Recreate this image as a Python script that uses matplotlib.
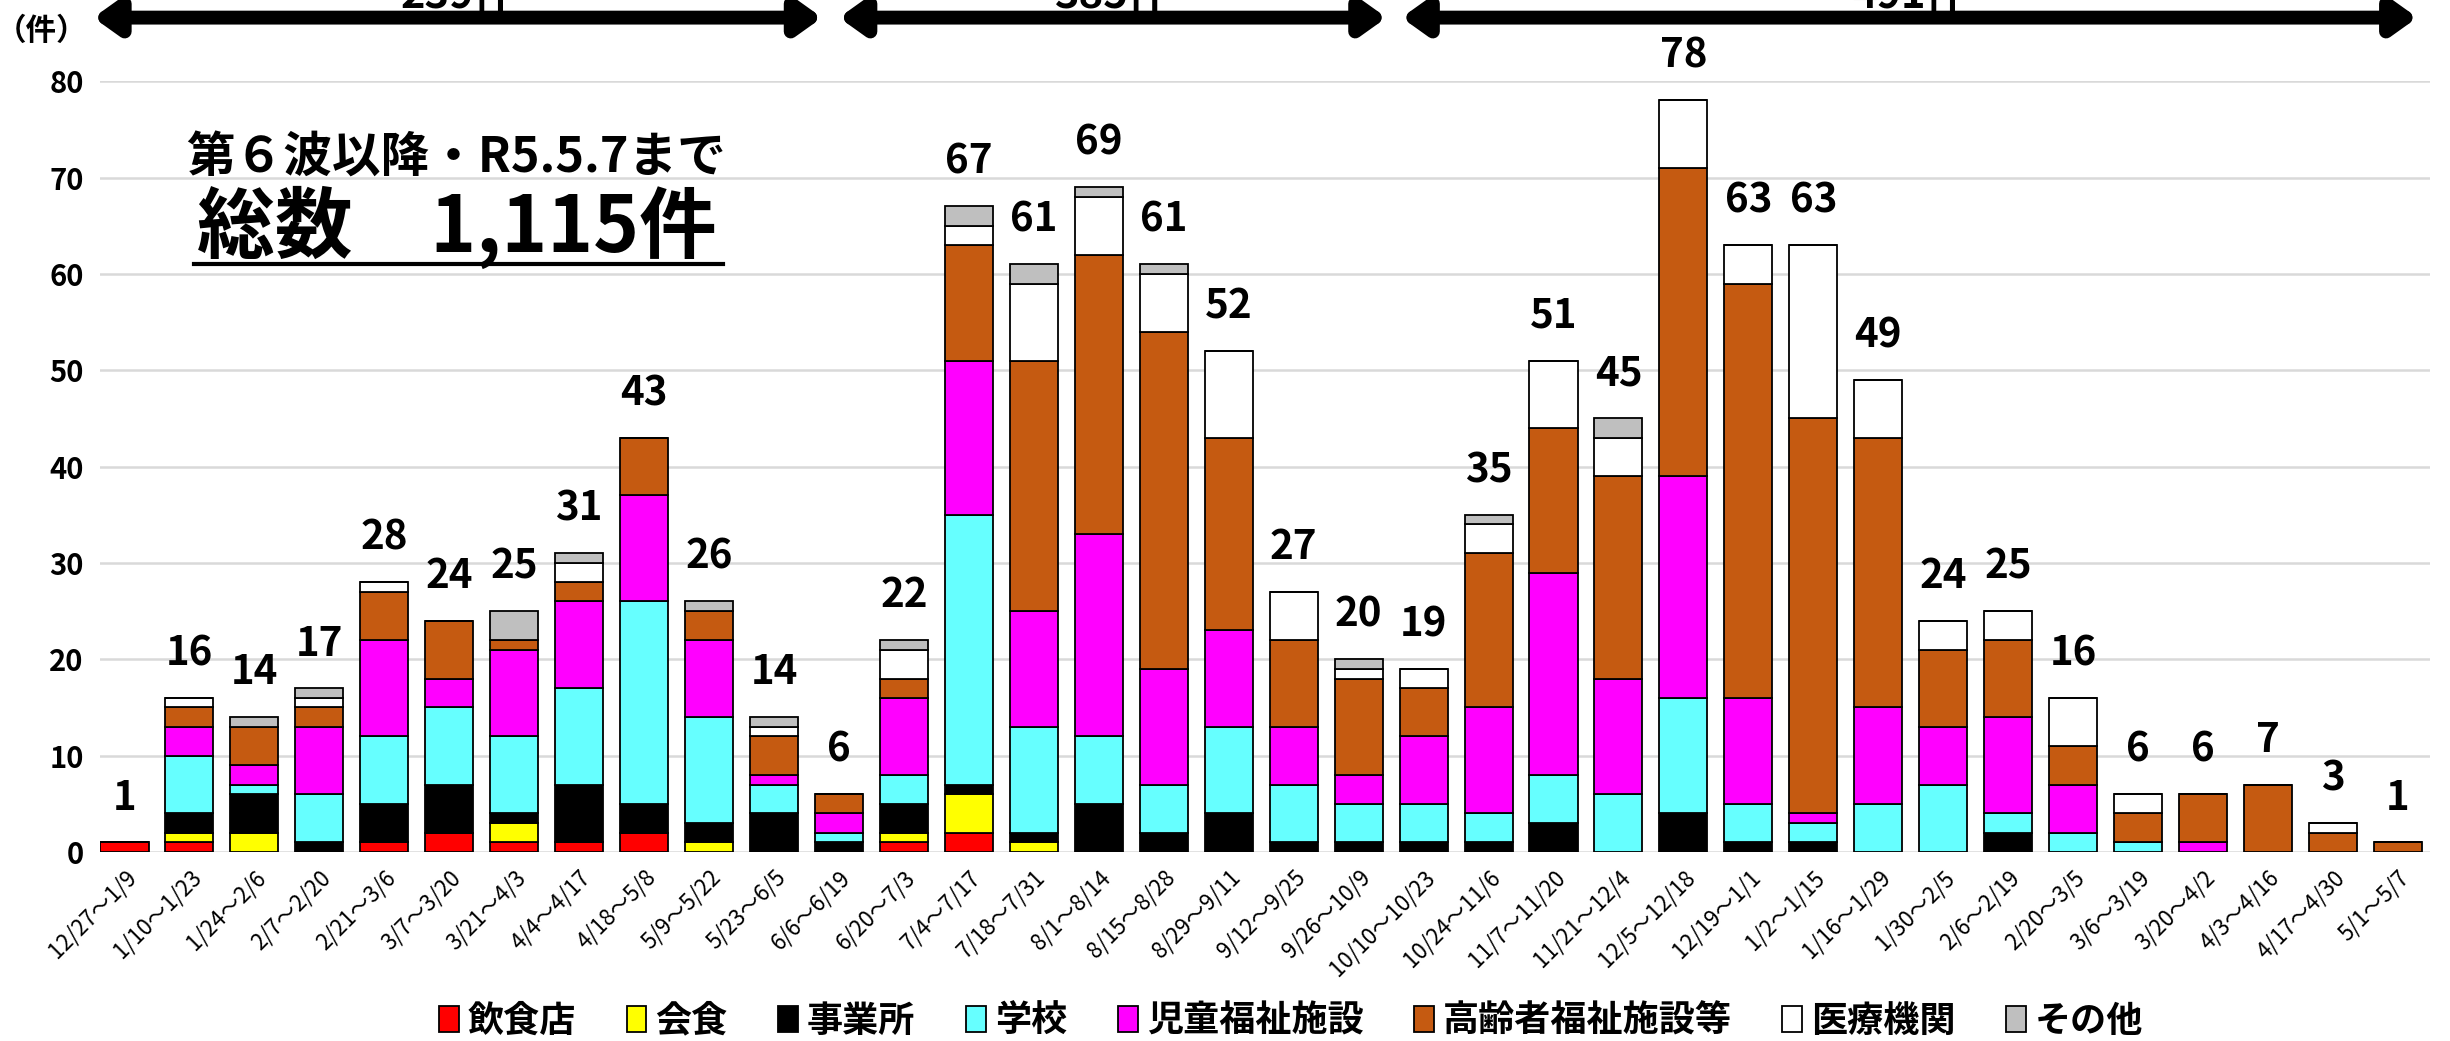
import numpy as np
import matplotlib
matplotlib.use("Agg")
import matplotlib.pyplot as plt
from matplotlib.patches import Patch

plt.rcParams['font.family'] = ['Noto Sans CJK JP', 'DejaVu Sans']

# 期間（2週間ごと）
cats = ['12/27～1/9', '1/10～1/23', '1/24～2/6', '2/7～2/20', '2/21～3/6', '3/7～3/20',
        '3/21～4/3', '4/4～4/17', '4/18～5/8', '5/9～5/22', '5/23～6/5', '6/6～6/19',
        '6/20～7/3', '7/4～7/17', '7/18～7/31', '8/1～8/14', '8/15～8/28', '8/29～9/11',
        '9/12～9/25', '9/26～10/9', '10/10～10/23', '10/24～11/6', '11/7～11/20', '11/21～12/4',
        '12/5～12/18', '12/19～1/1', '1/2～1/15', '1/16～1/29', '1/30～2/5', '2/6～2/19',
        '2/20～3/5', '3/6～3/19', '3/20～4/2', '4/3～4/16', '4/17～4/30', '5/1～5/7']

inshokuten = [1, 1, 0, 0, 1, 2, 1, 1, 2, 0, 0, 0, 1, 2, 0, 0, 0, 0,
              0, 0, 0, 0, 0, 0, 0, 0, 0, 0, 0, 0, 0, 0, 0, 0, 0, 0]
kaishoku = [0, 1, 2, 0, 0, 0, 2, 0, 0, 1, 0, 0, 1, 4, 1, 0, 0, 0,
            0, 0, 0, 0, 0, 0, 0, 0, 0, 0, 0, 0, 0, 0, 0, 0, 0, 0]
jigyousho = [0, 2, 4, 1, 4, 5, 1, 6, 3, 2, 4, 1, 3, 1, 1, 5, 2, 4,
             1, 1, 1, 1, 3, 0, 4, 1, 1, 0, 0, 2, 0, 0, 0, 0, 0, 0]
gakkou = [0, 6, 1, 5, 7, 8, 8, 10, 21, 11, 3, 1, 3, 28, 11, 7, 5, 9,
          6, 4, 4, 3, 5, 6, 12, 4, 2, 5, 7, 2, 2, 1, 0, 0, 0, 0]
jidou = [0, 3, 2, 7, 10, 3, 9, 9, 11, 8, 1, 2, 8, 16, 12, 21, 12, 10,
         6, 3, 7, 11, 21, 12, 23, 11, 1, 10, 6, 10, 5, 0, 1, 0, 0, 0]
koureisha = [0, 2, 4, 2, 5, 6, 1, 2, 6, 3, 4, 2, 2, 12, 26, 29, 35, 20,
             9, 10, 5, 16, 15, 21, 32, 43, 41, 28, 8, 8, 4, 3, 5, 7, 2, 1]
iryou = [0, 1, 0, 1, 1, 0, 0, 2, 0, 0, 1, 0, 3, 2, 8, 6, 6, 9,
         5, 1, 2, 3, 7, 4, 7, 4, 18, 6, 3, 3, 5, 2, 0, 0, 1, 0]
sonota = [0, 0, 1, 1, 0, 0, 3, 1, 0, 1, 1, 0, 1, 2, 2, 1, 1, 0,
          0, 1, 0, 1, 0, 2, 0, 0, 0, 0, 0, 0, 0, 0, 0, 0, 0, 0]

series = [('飲食店', inshokuten, '#FF0000'),
          ('会食', kaishoku, '#FFFF00'),
          ('事業所', jigyousho, '#000000'),
          ('学校', gakkou, '#66FFFF'),
          ('児童福祉施設', jidou, '#FF00FF'),
          ('高齢者福祉施設等', koureisha, '#C55A11'),
          ('医療機関', iryou, '#FFFFFF'),
          ('その他', sonota, '#BFBFBF')]

# 矢印の区切り（棒のインデックス）と矢印の端
groups = [(0, 10), (11, 19), (20, 35)]
arrow_ends = [(-0.48, 10.74), (11.0, 19.43), (19.66, 35.3)]

fig = plt.figure(figsize=(24.5, 10.41), dpi=100)
ax = fig.add_axes([0.041, 0.1816, 0.951, 0.7404])

x = np.arange(len(cats))
bottom = np.zeros(len(cats))
for name, vals, col in series:
    vals = np.array(vals)
    ax.bar(x, vals, 0.74, bottom=bottom, color=col, edgecolor='black', linewidth=1.3, zorder=3)
    bottom += vals

totals = bottom
for xi, t in zip(x, totals):
    ax.annotate(str(int(t)), (xi, t), xytext=(0, 17), textcoords='offset points',
                ha='center', va='bottom', fontsize=29, fontweight='bold')

ax.set_ylim(0, 80)
ax.set_xlim(-0.37, 35.5)
ax.set_yticks(np.arange(0, 81, 10))
ax.yaxis.grid(True, color='#D9D9D9', linewidth=1.8, zorder=0)
ax.set_axisbelow(True)
for s in ax.spines.values():
    s.set_visible(False)
ax.tick_params(axis='both', length=0)
ax.tick_params(axis='y', labelsize=21, pad=12)
for lab in ax.get_yticklabels():
    lab.set_fontweight('bold')
ax.set_xticks(x)
ax.set_xticklabels(cats, rotation=45, ha='right', rotation_mode='anchor', fontsize=16)
ax.tick_params(axis='x', pad=10)

fig.text(0.017, 0.97, '（件）', fontsize=22, fontweight='bold', ha='center', va='center')

# 波ごとの矢印と件数
for (a, b), (x0, x1) in zip(groups, arrow_ends):
    ax.annotate('', xy=(x0, 86.6), xytext=(x1, 86.6), xycoords='data',
                arrowprops=dict(arrowstyle='<|-|>,head_length=1.4,head_width=1.0',
                                color='black', lw=10, shrinkA=0, shrinkB=0),
                annotation_clip=False)
    ax.text((x0 + x1) / 2, 87.6, f'{int(totals[a:b + 1].sum())}件', ha='center', va='baseline',
            fontsize=30, fontweight='bold', clip_on=False)

fig.text(0.186, 0.848, '第６波以降・R5.5.7まで', fontsize=35, fontweight='bold',
         ha='center', va='center')
fig.text(0.1865, 0.782, '総数　1,115件', fontsize=56, fontweight='bold',
         ha='center', va='center')
fig.add_artist(plt.Line2D([0.079, 0.295], [0.746, 0.746], color='black', lw=3))

handles = [Patch(facecolor=c, edgecolor='black', linewidth=1.3, label=n) for n, v, c in series]
fig.legend(handles=handles, loc='lower center', bbox_to_anchor=(0.527, -0.03), ncol=8,
           frameon=False, handlelength=0.55, handleheight=0.75,
           handletextpad=0.25, columnspacing=1.4, prop={'weight': 'bold', 'size': 26})

fig.savefig('out.png', dpi=100)
